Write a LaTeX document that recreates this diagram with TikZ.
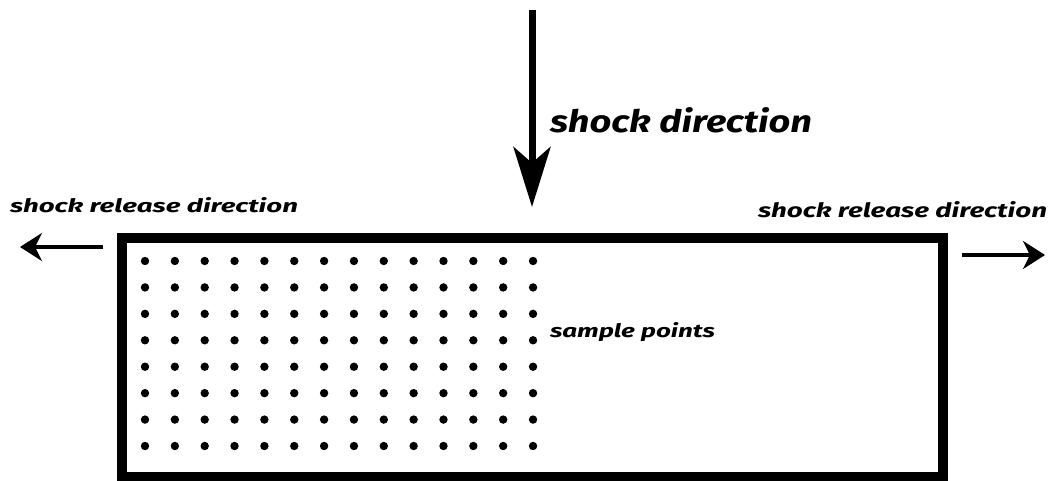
\documentclass[tikz,border=0pt]{standalone}
\usepackage{fontspec}
\setmainfont{Fira Sans}
\usetikzlibrary{arrows.meta}
% text box forced to a given width and height above the baseline
\newcommand\fitlabel[3]{\resizebox{#1}{#2}{\bfseries\itshape #3}}
\tikzset{
  lbl/.style={inner sep=0pt, outer sep=0pt, anchor=base west},
  frame/.style={line width=10pt, line join=miter},
  bigarrow/.style={line width=7pt, -{Stealth[length=60pt, width=37pt, inset=16pt]}},
  smallarrow/.style={line width=4pt, -{Stealth[length=22pt, width=28pt, inset=7pt]}},
  sampledot/.style={fill=black},
}
\begin{document}
\begin{tikzpicture}[x=1pt, y=-1pt]
  \useasboundingbox (0,0) rectangle (1055,481);

  % specimen outline
  \coordinate (bl) at (122,477);
  \coordinate (tr) at (943,238);
  \draw[frame] (bl) rectangle (tr);

  % grid of sample points
  \foreach \i in {0,...,13}
    \foreach \j in {0,...,7}
      \fill[sampledot] ({145+29.85*\i},{261+26.43*\j}) circle (4.2pt);

  % incoming shock
  \coordinate (shockstart) at (532,10);
  \coordinate (shockend) at (532,207);
  \draw[bigarrow] (shockstart) -- (shockend);
  \node[lbl] (shocklbl) at (550,133) {\fitlabel{262pt}{25pt}{shock direction}};

  % release to the left
  \coordinate (lstart) at (103,247);
  \coordinate (lend) at (20,247);
  \draw[smallarrow] (lstart) -- (lend);
  \node[lbl] (lrel) at (10,213) {\fitlabel{288pt}{15pt}{shock release direction}};

  % release to the right
  \coordinate (rstart) at (962,255);
  \coordinate (rend) at (1045,255);
  \draw[smallarrow] (rstart) -- (rend);
  \node[lbl] (rrel) at (758,218) {\fitlabel{289pt}{16pt}{shock release direction}};

  % sample points label
  \node[lbl] (samplbl) at (550,337) {\fitlabel{165pt}{15pt}{sample points}};
\end{tikzpicture}
\end{document}
